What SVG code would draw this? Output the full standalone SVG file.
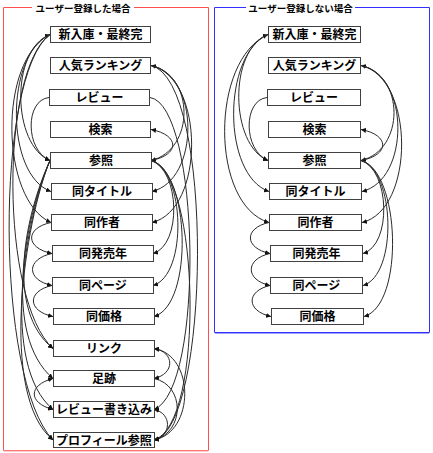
<svg xmlns="http://www.w3.org/2000/svg" width="433" height="453" viewBox="0 0 433 453">
<style>
.box rect{fill:#fff;stroke:#404040;stroke-width:1}
.box text{font-family:"Noto Sans CJK JP","Liberation Sans",sans-serif;font-size:12px;font-weight:bold;fill:#000;text-anchor:middle}
.ttl{font-family:"Noto Sans CJK JP","Liberation Sans",sans-serif;font-size:9.5px;font-weight:bold;fill:#000;text-anchor:middle}
.c path{fill:none;stroke:#2a2a2a;stroke-width:1}
.e{marker-end:url(#a)}
.b{marker-start:url(#a);marker-end:url(#a)}
</style>
<defs>
<marker id="a" viewBox="0 0 10 10" refX="10" refY="5" markerWidth="5" markerHeight="5" markerUnits="userSpaceOnUse" orient="auto-start-reverse">
<path d="M0,0 L10,5 L0,10 z" fill="#111"/>
</marker>
</defs>
<g id="frame-left">
<path d="M32,7.5 H3.5 V450.5 H208.5 V7.5 H134" fill="none" stroke="#ff5050" stroke-width="1"/>
<path d="M4,451 H208" stroke="#ff9a9a" stroke-width="1"/>
<text class="ttl" x="83" y="11.5">ユーザー登録した場合</text>
</g>
<g id="frame-right">
<path d="M246,7.5 H214.5 V332.5 H429.5 V7.5 H355" fill="none" stroke="#3030ff" stroke-width="1"/>
<path d="M215,333.5 H429" stroke="#a0a0ff" stroke-width="1"/>
<text class="ttl" x="300.5" y="11.5">ユーザー登録しない場合</text>
</g>
<g class="c" id="connectors">
<!-- left panel, left side -->
<path class="b" d="M50,34.5 C10,50 12,145 50,160.5"/>
<path class="e" d="M50,34.5 C5,55 5,175 51,191.5"/>
<path class="e" d="M50,34.5 C-2,60 0,200 51,222.5"/>
<path class="e" d="M50,34.5 C0,70 0,300 53,348.5"/>
<path class="e" d="M50,34.5 C-5,75 -5,380 53,440"/>
<path class="e" d="M49,97.5 C25,100 25,150 50,160.5"/>
<path class="e" d="M51,222.5 C25,228 25,248 52,253.5"/>
<path class="e" d="M52,253.5 C26,259 26,280 52,285.5"/>
<path class="e" d="M52,285.5 C27,291 27,311 53,316.5"/>
<path class="b" d="M53,378.5 C28,385 28,403 53,409.5"/>
<path class="e" d="M50,160.5 C25,215 5,310 53,348.5"/>
<path class="e" d="M50,160.5 C25,217 2,335 53,378.5"/>
<path class="e" d="M50,160.5 C25,219 0,365 53,409.5"/>
<path class="e" d="M50,160.5 C25,220 -2,395 53,440"/>
<!-- left panel, right side -->
<path class="b" d="M151,65.5 C195,75 195,150 151,160.5"/>
<path class="e" d="M151,65.5 C200,75 200,180 152,191.5"/>
<path class="e" d="M151,65.5 C205,78 205,210 152,222.5"/>
<path class="e" d="M151,160.5 C180,155 180,135 151,129.5"/>
<path class="e" d="M151,160.5 C180,170 182,245 153,253.5"/>
<path class="e" d="M151,160.5 C185,170 188,275 153,285.5"/>
<path class="e" d="M151,160.5 C190,170 194,305 154,316.5"/>
<path class="e" d="M150,97.5 C200,105 205,390 154,409.5"/>
<path class="e" d="M151,65.5 C215,80 210,430 154,440"/>
<path class="e" d="M151,160.5 C200,170 205,425 154,440"/>
<path class="b" d="M154,348.5 C195,355 195,432 154,440"/>
<path class="e" d="M154,378.5 C185,385 185,432 154,440"/>
<path class="b" d="M154,348.5 C175,352 175,374 154,378.5"/>
<path class="b" d="M154,409.5 C172,413 172,436 154,440"/>
<!-- right panel, left side -->
<path class="b" d="M268,34.5 C228,50 230,145 268,160.5"/>
<path class="e" d="M268,34.5 C222,55 222,175 269,191.5"/>
<path class="e" d="M268,34.5 C210,60 210,205 269,222.5"/>
<path class="e" d="M267,97.5 C243,100 243,150 268,160.5"/>
<path class="e" d="M269,222.5 C244,228 244,248 270,253.5"/>
<path class="e" d="M270,253.5 C245,259 245,280 270,285.5"/>
<path class="e" d="M270,285.5 C246,291 246,311 271,316.5"/>
<!-- right panel, right side -->
<path class="b" d="M361,65.5 C405,75 405,150 361,160.5"/>
<path class="e" d="M361,65.5 C410,75 410,180 362,191.5"/>
<path class="e" d="M361,65.5 C415,78 415,210 362,222.5"/>
<path class="e" d="M361,160.5 C390,155 390,135 361,129.5"/>
<path class="e" d="M361,160.5 C390,170 392,245 363,253.5"/>
<path class="e" d="M361,160.5 C395,170 398,275 363,285.5"/>
<path class="e" d="M361,160.5 C400,170 405,305 364,316.5"/>
</g>
<g class="box" id="L1"><rect x="50.5" y="26.5" width="100" height="16"/><text x="100.5" y="39">新入庫・最終完</text></g>
<g class="box" id="L2"><rect x="50.5" y="57.5" width="100" height="16"/><text x="100.5" y="70">人気ランキング</text></g>
<g class="box" id="L3"><rect x="49.5" y="89.5" width="100" height="16"/><text x="99.5" y="102">レビュー</text></g>
<g class="box" id="L4"><rect x="50.5" y="121.5" width="100" height="16"/><text x="100.5" y="134">検索</text></g>
<g class="box" id="L5"><rect x="50.5" y="152.5" width="101" height="16"/><text x="101" y="165">参照</text></g>
<g class="box" id="L6"><rect x="51.5" y="183.5" width="101" height="16"/><text x="102" y="196">同タイトル</text></g>
<g class="box" id="L7"><rect x="51.5" y="214.5" width="101" height="16"/><text x="102" y="227">同作者</text></g>
<g class="box" id="L8"><rect x="52.5" y="245.5" width="101" height="16"/><text x="103" y="258">同発売年</text></g>
<g class="box" id="L9"><rect x="52.5" y="277.5" width="101" height="16"/><text x="103" y="290">同ページ</text></g>
<g class="box" id="L10"><rect x="53.5" y="308.5" width="101" height="16"/><text x="104" y="321">同価格</text></g>
<g class="box" id="L11"><rect x="53.5" y="340.5" width="101" height="16"/><text x="104" y="353">リンク</text></g>
<g class="box" id="L12"><rect x="53.5" y="370.5" width="101" height="16"/><text x="104" y="383">足跡</text></g>
<g class="box" id="L13"><rect x="53.5" y="401.5" width="101" height="16"/><text x="104" y="414">レビュー書き込み</text></g>
<g class="box" id="L14"><rect x="53.5" y="432.5" width="101" height="15"/><text x="104" y="444.5">プロフィール参照</text></g>
<g class="box" id="R1"><rect x="268.5" y="26.5" width="92" height="16"/><text x="314.5" y="39">新入庫・最終完</text></g>
<g class="box" id="R2"><rect x="268.5" y="57.5" width="92" height="16"/><text x="314.5" y="70">人気ランキング</text></g>
<g class="box" id="R3"><rect x="267.5" y="89.5" width="93" height="16"/><text x="314" y="102">レビュー</text></g>
<g class="box" id="R4"><rect x="268.5" y="121.5" width="92" height="16"/><text x="314.5" y="134">検索</text></g>
<g class="box" id="R5"><rect x="268.5" y="152.5" width="92" height="16"/><text x="314.5" y="165">参照</text></g>
<g class="box" id="R6"><rect x="269.5" y="183.5" width="92" height="16"/><text x="315.5" y="196">同タイトル</text></g>
<g class="box" id="R7"><rect x="269.5" y="214.5" width="92" height="16"/><text x="315.5" y="227">同作者</text></g>
<g class="box" id="R8"><rect x="270.5" y="245.5" width="92" height="16"/><text x="316.5" y="258">同発売年</text></g>
<g class="box" id="R9"><rect x="270.5" y="277.5" width="92" height="16"/><text x="316.5" y="290">同ページ</text></g>
<g class="box" id="R10"><rect x="271.5" y="308.5" width="92" height="16"/><text x="317.5" y="321">同価格</text></g>
</svg>
